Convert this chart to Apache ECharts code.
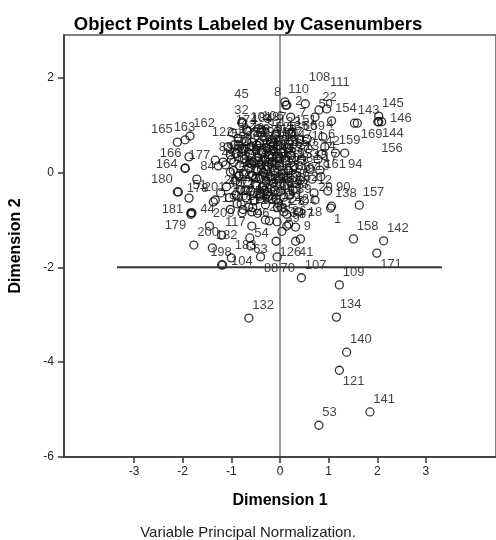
<!DOCTYPE html>
<html>
<head>
<meta charset="utf-8">
<script src="https://cdn.jsdelivr.net/npm/echarts@6/dist/echarts.min.js"></script>
<style>
  html, body { margin: 0; padding: 0; background: #fff; }
  #chart { width: 496px; height: 540px; }
</style>
</head>
<body>
<div id="chart"></div>
<script>
// object points: [case number, dimension 1, dimension 2]
const farPoints = [
  [132, -0.64, -3.07], [134, 1.16, -3.05], [140, 1.37, -3.79], [121, 1.22, -4.17],
  [141, 1.85, -5.05], [53, 0.80, -5.33], [157, 1.63, -0.69], [158, 1.51, -1.40],
  [142, 2.13, -1.44], [171, 1.99, -1.70], [109, 1.22, -2.37], [107, 0.44, -2.22],
  [198, -1.20, -1.95], [104, -1.18, -1.95], [88, -0.40, -1.78], [70, -0.06, -1.78]
]
const rightPoints = [
  [154, 1.06, 1.09], [143, 1.53, 1.04], [145, 2.03, 1.19], [146, 2.09, 1.07],
  [144, 2.03, 1.07], [156, 2.01, 1.07], [169, 1.59, 1.04], [159, 1.14, 0.41],
  [42, 0.86, 0.39], [94, 1.33, 0.41], [161, 0.84, -0.09], [12, 0.70, -0.43],
  [90, 0.98, -0.39], [138, 1.06, -0.71], [1, 1.04, -0.75], [18, 0.50, -0.60],
  [9, 0.42, -1.40], [41, 0.32, -1.45], [126, -0.08, -1.45], [60, 0.40, 0.71],
  [59, 0.56, 0.71], [67, 0.42, -0.16], [40, 0.20, -0.47]
]
const leftPoints = [
  [63, -0.62, -1.38], [54, -0.60, -1.55], [183, -1.00, -1.80], [182, -1.39, -1.59],
  [200, -1.77, -1.53], [117, -1.20, -1.32], [209, -1.45, -1.13], [44, -1.81, -0.85],
  [181, -1.83, -0.85], [179, -1.83, -0.88], [199, -1.37, -0.62], [201, -1.33, -0.58],
  [178, -2.09, -0.41], [180, -2.11, -0.41], [43, -0.90, -0.47], [202, -0.80, -0.66],
  [27, -0.64, -0.73], [31, -0.78, -0.85], [38, -0.42, -0.50], [113, -0.04, -0.64],
  [28, -0.30, -1.00], [35, -0.06, -1.04], [84, -1.71, -0.14], [162, -1.85, 0.77],
  [163, -1.95, 0.69], [165, -2.11, 0.64], [164, -1.95, 0.09], [166, -1.87, 0.33],
  [177, -1.95, 0.09], [89, -1.33, 0.26], [52, -1.02, 0.37], [122, -0.86, 0.58]
]
const topPoints = [
  [110, 0.10, 1.49], [8, 0.12, 1.42], [108, 0.52, 1.45], [111, 0.96, 1.34],
  [22, 0.80, 1.32], [2, 0.14, 1.42], [7, 0.22, 1.17], [32, -0.78, 1.04],
  [45, -0.78, 1.07], [10, -0.68, 0.90], [106, -0.44, 0.92], [16, -0.58, 0.64],
  [5, -0.16, 0.69], [25, -0.02, 0.69]
]
const edgePoints = [
  [3, -0.40, 0.85], [4, 0.88, 0.75], [6, 0.92, 0.54], [11, 0.58, 0.50],
  [13, 0.44, 0.28], [14, 0.78, 0.28], [15, 0.62, 0.07], [17, 0.82, 0.05],
  [19, 0.66, -0.14], [20, 0.72, -0.58], [21, 0.38, -0.83], [23, 0.14, -0.88],
  [24, 0.08, -0.83], [26, -0.58, -0.83], [29, -0.26, -0.41], [30, -0.16, -0.56],
  [33, -0.22, -1.02], [34, 0.14, -1.13], [36, 0.18, -1.09], [37, 0.32, -1.15],
  [39, 0.04, -1.24], [46, -0.58, -1.13], [47, -1.27, 0.14], [48, -1.12, 0.16],
  [49, -1.02, 0.01], [50, 0.72, 1.17], [51, -1.87, -0.54]
]
const corePoints = [
  [55, -1.07, 0.54], [56, -1.00, 0.27], [57, -0.96, 0.04], [58, -0.92, -0.18],
  [61, -0.90, 0.40], [62, -0.86, 0.72], [64, -0.83, 0.14], [65, -0.81, -0.36],
  [66, -0.78, 0.50], [68, -0.75, -0.03], [69, -0.73, 0.29], [71, -0.70, -0.53],
  [72, -0.69, 0.66], [73, -0.67, -0.20], [74, -0.64, 0.10], [75, -0.62, 0.39],
  [76, -0.60, -0.39], [77, -0.59, 0.55], [78, -0.57, -0.06], [79, -0.55, 0.22],
  [80, -0.53, -0.60], [81, -0.50, -0.26], [82, -0.49, 0.47], [83, -0.47, 0.04],
  [85, -0.45, 0.32], [86, -0.43, -0.13], [87, -0.42, 0.62], [91, -0.41, -0.44],
  [92, -0.39, 0.16], [93, -0.37, 0.42], [95, -0.36, -0.30], [96, -0.34, 0.00],
  [97, -0.33, 0.74], [98, -0.31, 0.28], [99, -0.30, -0.68], [100, -0.28, -0.18],
  [101, -0.27, 0.52], [102, -0.25, 0.12], [103, -0.24, -0.50], [105, -0.22, 0.37],
  [112, -0.21, -0.08], [114, -0.19, 0.64], [115, -0.18, -0.34], [116, -0.16, 0.22],
  [118, -0.15, 0.47], [119, -0.13, -0.22], [120, -0.11, 0.04], [123, -0.09, 0.80],
  [124, -0.08, -0.56], [125, -0.06, 0.32], [127, -0.04, 0.57], [128, -0.03, -0.13],
  [129, -0.01, 0.14], [130, 0.01, -0.40], [131, 0.03, 0.42], [133, 0.05, -0.03],
  [135, 0.07, 0.70], [136, 0.09, -0.28], [137, 0.11, 0.25], [139, 0.13, -0.63],
  [147, 0.15, 0.52], [148, 0.17, 0.04], [149, 0.19, -0.18], [150, 0.22, 0.36],
  [151, 0.24, 0.84], [152, 0.27, -0.38], [153, 0.29, 0.12], [155, -0.95, 0.22],
  [160, -0.85, -0.08], [167, -0.62, 0.20], [168, -0.50, -0.12], [170, -0.38, 0.06],
  [172, -1.10, -0.30], [173, -1.04, -0.53], [174, -0.98, 0.84], [175, -0.88, -0.66],
  [176, -0.76, -0.78], [184, -0.66, 0.87], [185, -0.56, -0.74], [186, -0.46, -0.86],
  [187, -0.38, 0.90], [188, -0.32, -0.38], [189, -0.23, 0.22], [190, -0.14, 0.56],
  [191, -0.05, -0.74], [192, 0.00, 0.30], [193, 0.08, -0.52], [194, -0.58, 0.18],
  [195, -0.48, 0.58], [196, -0.29, 0.06], [197, -0.10, -0.38], [203, -0.72, -0.38],
  [204, -0.84, -0.06], [205, -0.94, 0.58], [206, -1.17, 0.22], [207, -1.22, -0.43],
  [208, -1.02, -0.78]
]

// axes and reference lines
const xRange = [-4.44, 4.44]
const yRange = [-6, 2.9]
const xTicks = [-3, -2, -1, 0, 1, 2, 3]
const yTicks = [-6, -4, -2, 0, 2]
const vRefX = 0
const hRefY = -2
const hRefSpan = [-3.35, 3.33]

// where SPSS put each case label (default is upper right)
const labelPlacement = {
  tl: [180, 165, 8, 122],
  br: [121, 171, 169, 144, 1, 18, 41, 126, 63, 94, 88, 70],
  br2: [156],
  bl: [179],
  r: [104, 146, 90, 44, 199, 178, 2, 7],
  l: [181, 164, 166],
  t: [198, 163, 201, 43, 202, 32],
  t2: [45],
  tr2: [108, 111]
}

const spots = {
  tr: { position: [8, -8], align: 'left' },
  tl: { position: [0, -8], align: 'right' },
  br: { position: [8, 16], align: 'left' },
  br2: { position: [8, 31], align: 'left' },
  bl: { position: [0, 16], align: 'right' },
  r: { position: [13, 1], align: 'left' },
  l: { position: [-3, 1], align: 'right' },
  t: { position: [4, -8], align: 'center' },
  t2: { position: [4, -23], align: 'center' },
  tr2: { position: [8, -22], align: 'left' }
}

const spotOf = {}
Object.keys(labelPlacement).forEach(k => {
  labelPlacement[k].forEach(c => { spotOf[c] = k })
})

const allPoints = [...edgePoints, ...corePoints, ...topPoints, ...leftPoints, ...rightPoints, ...farPoints]
const scatterData = allPoints.map(([c, d1, d2]) => {
  const s = spots[spotOf[c] || 'tr']
  return {
    name: String(c),
    value: [d1, d2],
    label: { position: s.position, align: s.align, verticalAlign: 'middle' }
  }
})

const font = 'Arial, "Liberation Sans", sans-serif'
const axisColor = '#333'

const chart = echarts.init(document.getElementById('chart'))
chart.setOption({
  animation: false,
  backgroundColor: '#fff',
  textStyle: { fontFamily: font },
  title: [
    {
      text: 'Object Points Labeled by Casenumbers',
      left: 'center',
      top: 10,
      textStyle: { fontFamily: font, fontSize: 18.5, fontWeight: 'bold', color: '#000' }
    },
    {
      text: 'Variable Principal Normalization.',
      left: 'center',
      top: 520,
      textStyle: { fontFamily: font, fontSize: 15, fontWeight: 'normal', color: '#222' }
    }
  ],
  grid: {
    left: 58,
    top: 35,
    width: 446,
    height: 422,
    show: true,
    borderColor: '#555',
    borderWidth: 1.5
  },
  xAxis: {
    type: 'value',
    min: xRange[0],
    max: xRange[1],
    name: 'Dimension 1',
    nameLocation: 'middle',
    nameGap: 36,
    nameTextStyle: { fontFamily: font, fontSize: 16, fontWeight: 'bold', color: '#000' },
    axisLine: { onZero: false, lineStyle: { color: axisColor, width: 1.5 } },
    axisTick: { customValues: xTicks, length: 6, lineStyle: { color: axisColor, width: 1.5 } },
    axisLabel: { customValues: xTicks, margin: 9, fontSize: 12, color: '#222', fontFamily: font },
    splitLine: { show: false }
  },
  yAxis: {
    type: 'value',
    min: yRange[0],
    max: yRange[1],
    name: 'Dimension 2',
    nameLocation: 'middle',
    nameGap: 40,
    nameTextStyle: { fontFamily: font, fontSize: 16, fontWeight: 'bold', color: '#000' },
    axisLine: { onZero: false, lineStyle: { color: axisColor, width: 1.5 } },
    axisTick: { customValues: yTicks, length: 6, lineStyle: { color: axisColor, width: 1.5 } },
    axisLabel: { customValues: yTicks, margin: 10, fontSize: 12, color: '#222', fontFamily: font },
    splitLine: { show: false }
  },
  series: [
    {
      type: 'line',
      silent: true,
      symbol: 'none',
      lineStyle: { color: axisColor, width: 1 },
      data: [[vRefX, yRange[0]], [vRefX, yRange[1]]]
    },
    {
      type: 'line',
      silent: true,
      symbol: 'none',
      lineStyle: { color: axisColor, width: 2 },
      data: [[hRefSpan[0], hRefY], [hRefSpan[1], hRefY]]
    },
    {
      type: 'scatter',
      symbol: 'circle',
      symbolSize: 8,
      itemStyle: { color: 'rgba(0,0,0,0)', borderColor: '#000', borderWidth: 1.3 },
      label: {
        show: true,
        formatter: '{b}',
        fontSize: 13,
        color: '#111',
        fontFamily: font
      },
      data: scatterData
    }
  ]
})
</script>
</body>
</html>
